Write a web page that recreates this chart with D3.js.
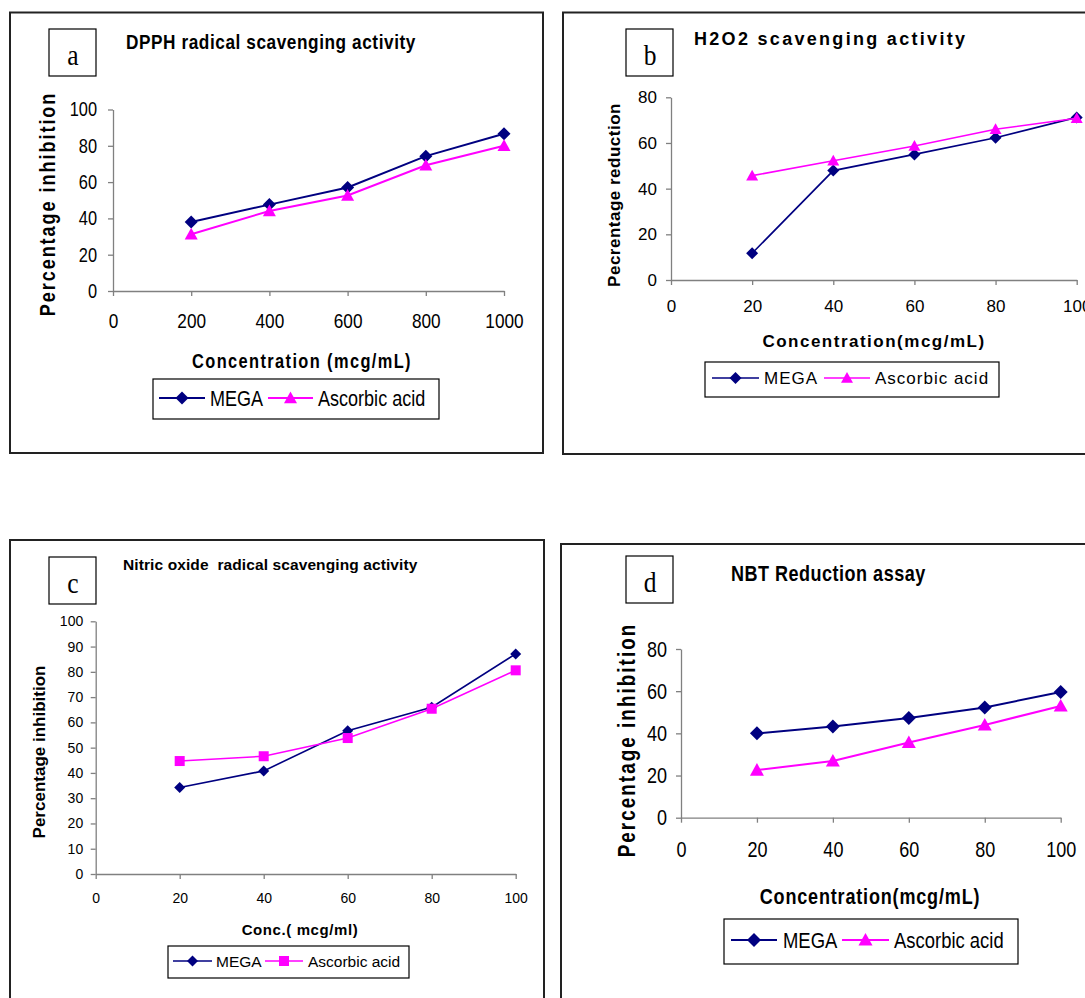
<!DOCTYPE html>
<html>
<head>
<meta charset="utf-8">
<style>
  body { margin: 0; background: white; }
  svg { display: block; background: white; }
  .axis path, .axis line { stroke: #808080; stroke-width: 1.3px; }
  .axis text { fill: #000; }
</style>
</head>
<body>
<script src="https://cdn.jsdelivr.net/npm/d3@7"></script>
<script>
// ---- data ----
const concDPPH = [200, 400, 600, 800, 1000];
const megaDPPH = [38.0, 47.6, 57.0, 74.3, 86.6];
const ascDPPH  = [31.3, 44.1, 52.6, 69.3, 80.0];
const xTicksDPPH = [0, 200, 400, 600, 800, 1000];
const yTicksDPPH = [0, 20, 40, 60, 80, 100];

const concH2O2 = [20, 40, 60, 80, 100];
const megaH2O2 = [11.7, 47.9, 55.0, 62.3, 71.2];
const ascH2O2  = [45.7, 52.2, 58.7, 66.0, 70.8];
const xTicksH2O2 = [0, 20, 40, 60, 80, 100];
const yTicksH2O2 = [0, 20, 40, 60, 80];

const concNO = [20, 40, 60, 80, 100];
const megaNO = [34.2, 40.8, 56.7, 66.0, 87.1];
const ascNO  = [44.7, 46.6, 53.8, 65.4, 80.6];
const xTicksNO = [0, 20, 40, 60, 80, 100];
const yTicksNO = [0, 10, 20, 30, 40, 50, 60, 70, 80, 90, 100];

const concNBT = [20, 40, 60, 80, 100];
const megaNBT = [40.0, 43.2, 47.3, 52.3, 59.6];
const ascNBT  = [22.6, 26.9, 35.7, 44.0, 53.0];
const xTicksNBT = [0, 20, 40, 60, 80, 100];
const yTicksNBT = [0, 20, 40, 60, 80];

const seriesNames = ["MEGA", "Ascorbic acid"];

const NAVY = "#000080", MAGENTA = "#FF00FF";
const SANS = "'Liberation Sans', Arial, sans-serif";
const SERIF = "'Liberation Serif', 'Times New Roman', serif";
// no narrow face installed, so narrow text = Liberation Sans squeezed sideways
const NARROW_K = 0.82;

let svg = d3.select("body").append("svg")
    .attr("width", 1085)
    .attr("height", 998)

// marker shapes
function marker(g, shape, r, color) {
    if (shape == "diamond") {
        g.append("path").attr("d", `M0,${-r}L${r},0L0,${r}L${-r},0Z`).attr("fill", color)
    } else if (shape == "triangle") {
        g.append("path").attr("d", `M0,${-r}L${r},${r * 0.8}L${-r},${r * 0.8}Z`).attr("fill", color)
    } else {
        g.append("rect").attr("x", -r).attr("y", -r).attr("width", 2 * r).attr("height", 2 * r).attr("fill", color)
    }
}

// text placed at (x,y), rotated if needed, squeezed by k along its own direction
function label(x, y, txt, o) {
    let k = o.k || 1
    let rot = o.rotate ? " rotate(-90)" : ""
    return svg.append("text")
        .attr("transform", `translate(${x},${y})${rot} scale(${k},1)`)
        .attr("text-anchor", o.anchor || "start")
        .attr("dy", o.dy || null)
        .style("white-space", "pre")
        .style("font-family", o.family || SANS)
        .style("font-weight", o.bold ? "bold" : "normal")
        .style("font-size", o.size + "px")
        .style("letter-spacing", (o.ls || 0) + "px")
        .text(txt)
}

function drawPanel(p) {
    let k = p.narrow ? NARROW_K : 1

    // frame
    svg.append("rect")
        .attr("x", p.frame[0]).attr("y", p.frame[1])
        .attr("width", p.frame[2] - p.frame[0]).attr("height", p.frame[3] - p.frame[1])
        .attr("fill", "none").attr("stroke", "#222").attr("stroke-width", 2)

    // letter box
    svg.append("rect")
        .attr("x", p.letterBox[0]).attr("y", p.letterBox[1])
        .attr("width", 47).attr("height", 47)
        .attr("fill", "white").attr("stroke", "#000").attr("stroke-width", 1.2)
    label(p.letterBox[0] + 24, p.letterBox[1] + 36, p.letter, { size: 30, k: 0.85, family: SERIF, anchor: "middle" })

    // title
    label(p.title.x, p.title.y, p.title.text, { size: p.title.size, bold: true, ls: p.title.ls, k: k })

    let x = d3.scaleLinear().domain([0, d3.max(p.xTicks)]).range([p.x0, p.x1])
    let y = d3.scaleLinear().domain([0, d3.max(p.yTicks)]).range([p.y0, p.y1])

    let yAxis = svg.append("g")
        .attr("class", "axis")
        .attr("transform", `translate(${p.x0},0)`)
        .call(d3.axisLeft(y).tickValues(p.yTicks).tickFormat(d3.format("d"))
            .tickSize(5).tickSizeOuter(0).tickPadding(p.yPad))
    yAxis.selectAll("text")
        .style("font-family", SANS).style("font-size", p.yTickSize + "px")
        .attr("x", -(5 + p.yPad) / k)
        .attr("transform", `scale(${k},1)`)

    let xAxis = svg.append("g")
        .attr("class", "axis")
        .attr("transform", `translate(0,${p.y0})`)
        .call(d3.axisBottom(x).tickValues(p.xTicks).tickFormat(d3.format("d"))
            .tickSize(5).tickSizeOuter(0).tickPadding(p.xPad))
    xAxis.selectAll("text")
        .style("font-family", SANS).style("font-size", p.xTickSize + "px")
        .attr("transform", `scale(${k},1)`)
    svg.selectAll(".axis .domain").attr("fill", "none")

    // axis titles
    label(p.yLabel.x, p.yLabel.y, p.yLabel.text,
        { size: p.yLabel.size, bold: true, ls: p.yLabel.ls, k: k, anchor: "middle", rotate: true })
    label(p.xLabel.x, p.xLabel.y, p.xLabel.text,
        { size: p.xLabel.size, bold: true, ls: p.xLabel.ls, k: k, anchor: "middle" })

    // series
    let line = d3.line()
        .x((d, i) => x(p.conc[i]))
        .y(d => y(d))
    p.series.forEach(s => {
        svg.append("path")
            .attr("d", line(s.values))
            .attr("fill", "none")
            .attr("stroke", s.color)
            .attr("stroke-width", p.lw)
        s.values.forEach((v, i) => {
            let g = svg.append("g").attr("transform", `translate(${x(p.conc[i])},${y(v)})`)
            marker(g, s.shape, s.r, s.color)
        })
    })

    // legend
    let L = p.legend
    svg.append("rect")
        .attr("x", L.box[0]).attr("y", L.box[1])
        .attr("width", L.box[2] - L.box[0]).attr("height", L.box[3] - L.box[1])
        .attr("fill", "white").attr("stroke", "#000").attr("stroke-width", 1.2)
    p.series.forEach((s, i) => {
        let it = L.items[i]
        svg.append("line")
            .attr("x1", it[0]).attr("x2", it[1])
            .attr("y1", L.cy).attr("y2", L.cy)
            .attr("stroke", s.color).attr("stroke-width", p.lw)
        let g = svg.append("g").attr("transform", `translate(${(it[0] + it[1]) / 2},${L.cy})`)
        marker(g, s.shape, s.r, s.color)
        label(it[2], L.cy, s.name, { size: L.size, ls: L.ls, k: k, dy: "0.36em" })
    })
}

// panel a
drawPanel({
    frame: [10, 12.5, 543, 453], letter: "a", letterBox: [49, 29], narrow: true,
    title: { text: "DPPH radical scavenging activity", x: 126, y: 49, size: 21, ls: 0.7 },
    conc: concDPPH, xTicks: xTicksDPPH, yTicks: yTicksDPPH,
    x0: 113, x1: 504, y0: 291, y1: 109.5,
    xTickSize: 21, yTickSize: 20, xPad: 17, yPad: 11,
    yLabel: { text: "Percentage inhibition", x: 55, y: 204, size: 22, ls: 2.4 },
    xLabel: { text: "Concentration (mcg/mL)", x: 302, y: 368, size: 20, ls: 1.7 },
    lw: 2,
    series: [
        { name: seriesNames[0], values: megaDPPH, color: NAVY, shape: "diamond", r: 6.5 },
        { name: seriesNames[1], values: ascDPPH, color: MAGENTA, shape: "triangle", r: 6.5 }
    ],
    legend: { box: [153, 379, 439, 419], cy: 398, size: 22,
        items: [[159, 205, 210], [268, 313, 318]] }
})

// panel b
drawPanel({
    frame: [563, 12.5, 1095, 454], letter: "b", letterBox: [626, 29],
    title: { text: "H2O2 scavenging activity", x: 694, y: 45, size: 18, ls: 2.3 },
    conc: concH2O2, xTicks: xTicksH2O2, yTicks: yTicksH2O2,
    x0: 671, x1: 1076.7, y0: 280, y1: 97.3,
    xTickSize: 17, yTickSize: 17, xPad: 15, yPad: 9,
    yLabel: { text: "Pecrentage reduction", x: 620, y: 195, size: 17, ls: 0.5 },
    xLabel: { text: "Concentration(mcg/mL)", x: 874, y: 347, size: 17, ls: 1.5 },
    lw: 1.6,
    series: [
        { name: seriesNames[0], values: megaH2O2, color: NAVY, shape: "diamond", r: 6 },
        { name: seriesNames[1], values: ascH2O2, color: MAGENTA, shape: "triangle", r: 6 }
    ],
    legend: { box: [705, 362, 999, 397], cy: 378, size: 17, ls: 1,
        items: [[712, 759, 764], [824, 870, 875]] }
})

// panel c
drawPanel({
    frame: [10, 540, 544, 1010], letter: "c", letterBox: [49, 557],
    title: { text: "Nitric oxide  radical scavenging activity", x: 123, y: 570, size: 15.5, ls: 0.1 },
    conc: concNO, xTicks: xTicksNO, yTicks: yTicksNO,
    x0: 95.7, x1: 515.7, y0: 874, y1: 621.3,
    xTickSize: 14, yTickSize: 14, xPad: 14, yPad: 7.5,
    yLabel: { text: "Percentage inhibition", x: 45, y: 752, size: 17, ls: 0 },
    xLabel: { text: "Conc.( mcg/ml)", x: 300, y: 935, size: 15, ls: 0.6 },
    lw: 1.6,
    series: [
        { name: seriesNames[0], values: megaNO, color: NAVY, shape: "diamond", r: 5.5 },
        { name: seriesNames[1], values: ascNO, color: MAGENTA, shape: "square", r: 5 }
    ],
    legend: { box: [168, 946, 409, 978], cy: 961, size: 15.5,
        items: [[173, 212, 216], [265, 303, 308]] }
})

// panel d
drawPanel({
    frame: [561, 544, 1095, 1010], letter: "d", letterBox: [626, 556], narrow: true,
    title: { text: "NBT Reduction assay", x: 731, y: 581, size: 22, ls: 0.6 },
    conc: concNBT, xTicks: xTicksNBT, yTicks: yTicksNBT,
    x0: 681, x1: 1060.7, y0: 817.7, y1: 649,
    xTickSize: 22, yTickSize: 22, xPad: 19, yPad: 9,
    yLabel: { text: "Percentage inhibition", x: 635, y: 740, size: 23, ls: 2.5 },
    xLabel: { text: "Concentration(mcg/mL)", x: 870, y: 904, size: 22, ls: 1 },
    lw: 2,
    series: [
        { name: seriesNames[0], values: megaNBT, color: NAVY, shape: "diamond", r: 7 },
        { name: seriesNames[1], values: ascNBT, color: MAGENTA, shape: "triangle", r: 7 }
    ],
    legend: { box: [724, 919, 1018, 964], cy: 940, size: 22.5,
        items: [[731, 777, 783], [842, 889, 894]] }
})
</script>
</body>
</html>
